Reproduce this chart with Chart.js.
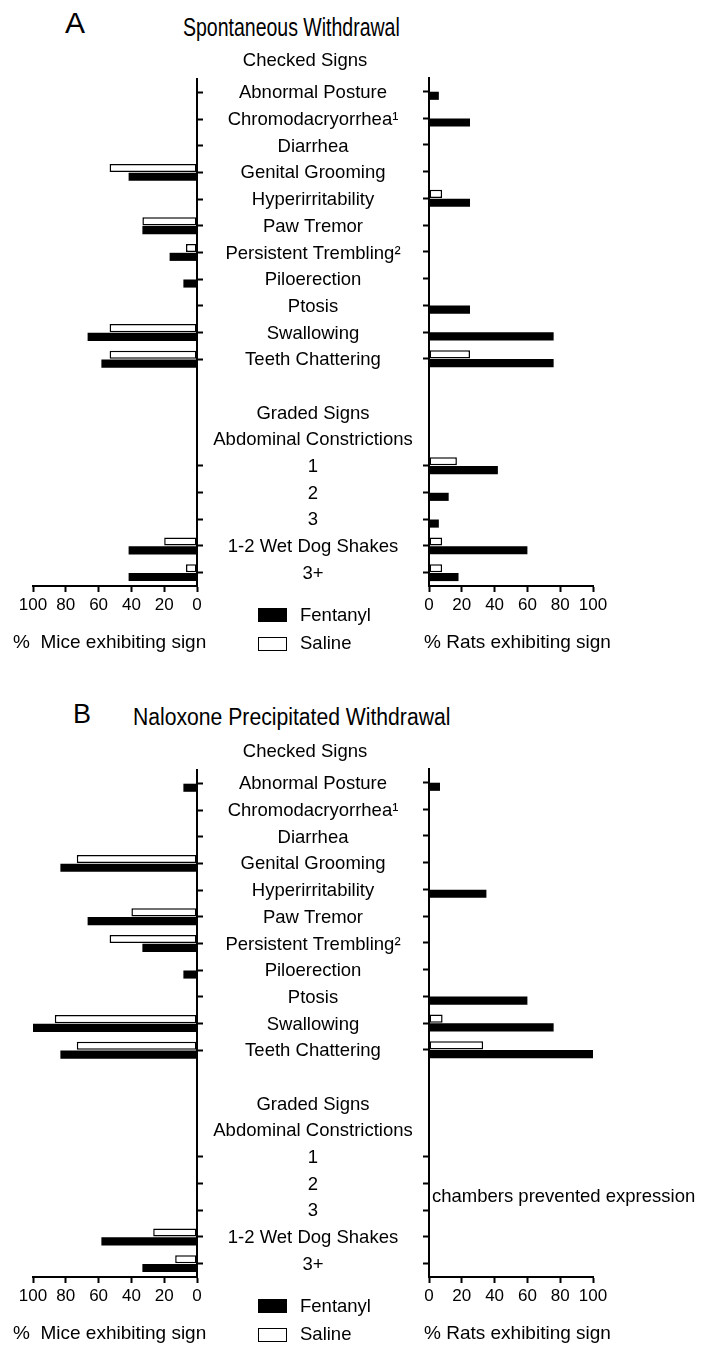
<!DOCTYPE html>
<html>
<head>
<meta charset="utf-8">
<script src="https://cdn.jsdelivr.net/npm/chart.js@4"></script>
<style>
*{margin:0;padding:0;box-sizing:border-box}
body{width:703px;height:1347px;background:#fff;position:relative;overflow:hidden;font-family:"Liberation Sans",Arial,sans-serif;color:#000}
canvas,.t,.box{position:absolute}
.t{white-space:nowrap}
.title{transform-origin:0 50%}
.box{width:29px;height:14px;border:1.5px solid #000}
</style>
</head>
<body>
<script>
(function () {
  'use strict';

  // ---- data ----
  var CATEGORIES = ['Abnormal Posture', 'Chromodacryorrhea\u00b9', 'Diarrhea', 'Genital Grooming',
    'Hyperirritability', 'Paw Tremor', 'Persistent Trembling\u00b2', 'Piloerection', 'Ptosis',
    'Swallowing', 'Teeth Chattering', '', 'Graded Signs', 'Abdominal Constrictions',
    '1', '2', '3', '1-2 Wet Dog Shakes', '3+'];
  // rows that carry a tick mark on the value axis
  var TICKED = [1, 1, 1, 1, 1, 1, 1, 1, 1, 1, 1, 0, 0, 0, 1, 1, 1, 1, 1];
  var X_TICKS = [0, 20, 40, 60, 80, 100];

  // A: spontaneous withdrawal
  var MICE_FENT_A = [0, 0, 0, 41.7, 0, 33.3, 16.7, 8.3, 0, 66.7, 58.3, null, null, null, 0, 0, 0, 41.7, 41.7];
  var MICE_SAL_A  = [0, 0, 0, 53.3, 0, 33.3, 6.7, 0, 0, 53.3, 53.3, null, null, null, 0, 0, 0, 20, 6.7];
  var RATS_FENT_A = [6, 25, 0, 0, 25, 0, 0, 0, 25, 76, 76, null, null, null, 42, 12, 6, 60, 18];
  var RATS_SAL_A  = [0, 0, 0, 0, 8, 0, 0, 0, 0, 0, 25, null, null, null, 17, 0, 0, 8, 8];

  // B: naloxone precipitated withdrawal
  var MICE_FENT_B = [8.3, 0, 0, 83.3, 0, 66.7, 33.3, 8.3, 0, 100, 83.3, null, null, null, 0, 0, 0, 58.3, 33.3];
  var MICE_SAL_B  = [0, 0, 0, 73.3, 0, 40, 53.3, 0, 0, 86.7, 73.3, null, null, null, 0, 0, 0, 26.7, 13.3];
  var RATS_FENT_B = [6.7, 0, 0, 0, 35, 0, 0, 0, 60, 76, 100, null, null, null, null, null, null, null, null];
  var RATS_SAL_B  = [0, 0, 0, 0, 0, 0, 0, 0, 0, 8.3, 33, null, null, null, null, null, null, null, null];

  var FONT = '"Liberation Sans", Arial, sans-serif';
  Chart.defaults.font.family = FONT;
  Chart.defaults.color = '#000';

  // category names between the two charts, drawn from the left chart's y scale
  var midLabels = {
    id: 'midLabels',
    afterDraw: function (chart) {
      var ctx = chart.ctx, ys = chart.scales.y, cx = chart.chartArea.right + 116;
      ctx.save();
      ctx.font = '18.5px ' + FONT;
      ctx.fillStyle = '#000';
      ctx.textAlign = 'center';
      ctx.textBaseline = 'middle';
      CATEGORIES.forEach(function (c, i) {
        if (c) ctx.fillText(c, cx, ys.getPixelForTick(i) + 1);
      });
      ctx.fillText('Checked Signs', cx - 8, ys.top - 18);
      ctx.restore();
    }
  };

  // axis title (wider than the axis itself, so not the built-in one) + optional note
  var extraText = {
    id: 'extraText',
    afterDraw: function (chart, args, opts) {
      var ctx = chart.ctx, ca = chart.chartArea, ys = chart.scales.y;
      ctx.save();
      ctx.fillStyle = '#000';
      ctx.textAlign = 'left';
      ctx.textBaseline = 'middle';
      ctx.font = '19px ' + FONT;
      ctx.fillText(opts.axisTitle, ca.left + opts.dx, ca.bottom + 57);
      if (opts.note) {
        ctx.font = '18.5px ' + FONT;
        ctx.fillText(opts.note, ca.left + 3, ys.getPixelForValue(15.5));
      }
      ctx.restore();
    }
  };

  function makeChart(canvas, left, fent, sal, note) {
    return new Chart(canvas, {
      type: 'bar',
      data: {
        labels: CATEGORIES,
        datasets: [
          { label: 'Saline', data: sal, backgroundColor: '#fff', borderColor: '#000', borderWidth: 1.5, borderSkipped: false },
          { label: 'Fentanyl', data: fent, backgroundColor: '#000', borderWidth: 0 }
        ]
      },
      options: {
        indexAxis: 'y',
        responsive: false,
        animation: false,
        categoryPercentage: 0.66,
        barPercentage: 0.92,
        layout: { padding: left ? { left: 33, top: 39, right: 0, bottom: 0 } : { left: 0, top: 38, right: 110, bottom: 0 } },
        plugins: {
          legend: { display: false },
          tooltip: { enabled: false },
          extraText: {
            axisTitle: left ? '%  Mice exhibiting sign' : '% Rats exhibiting sign',
            dx: left ? -20 : -5,
            note: note || ''
          }
        },
        scales: {
          x: {
            type: 'linear', min: 0, max: 100, reverse: left, position: 'bottom',
            afterBuildTicks: function (s) { s.ticks = X_TICKS.map(function (v) { return { value: v }; }); },
            ticks: { font: { size: 17 }, padding: 3, maxRotation: 0, autoSkip: false },
            grid: { drawOnChartArea: false, drawTicks: true, tickLength: 6, tickWidth: 2, tickColor: '#000' },
            border: { display: true, color: '#000', width: 2 },
            afterFit: function (s) { s.height = 74; }
          },
          y: {
            position: left ? 'right' : 'left',
            offset: true,
            ticks: { display: false },
            grid: {
              offset: false, drawOnChartArea: false, drawTicks: true, tickLength: 6, tickWidth: 2,
              tickColor: function (c) { return TICKED[c.index] ? '#000' : 'rgba(0,0,0,0)'; }
            },
            border: { display: true, color: '#000', width: 2 },
            afterFit: function (s) { s.width = left ? 233 : 29; }
          }
        }
      },
      plugins: left ? [midLabels, extraText] : [extraText]
    });
  }

  function addText(txt, x, cy, size, extra) {
    var d = document.createElement('div');
    d.className = 't' + (extra ? ' ' + extra : '');
    d.textContent = txt;
    d.style.left = x + 'px';
    d.style.top = (cy - size * 0.49) + 'px';
    d.style.fontSize = size + 'px';
    d.style.lineHeight = size + 'px';
    document.body.appendChild(d);
    return d;
  }

  function addBox(x, y, fill) {
    var b = document.createElement('div');
    b.className = 'box';
    b.style.left = x + 'px';
    b.style.top = y + 'px';
    b.style.background = fill;
    document.body.appendChild(b);
  }

  function addCanvas(x, y, w, h) {
    var c = document.createElement('canvas');
    c.width = w; c.height = h;
    c.style.left = x + 'px'; c.style.top = y + 'px';
    document.body.appendChild(c);
    return c;
  }

  function panel(top, letter, letterX, letterSize, title, titleX, titleSize, titleScale, mf, ms, rf, rs, note) {
    addText(letter, letterX, top + 23, letterSize);
    var t = addText(title, titleX, top + 27, titleSize, 'title');
    t.style.transform = 'scaleX(' + titleScale + ')';

    makeChart(addCanvas(0, top + 40, 430, 620), true, mf, ms);
    makeChart(addCanvas(400, top + 40, 303, 620), false, rf, rs, note);

    // legend
    addBox(258, top + 608, '#000');
    addBox(258, top + 637, '#fff');
    addText('Fentanyl', 300, top + 615, 18.5);
    addText('Saline', 300, top + 643, 18.5);
  }

  panel(0, 'A', 65, 30, 'Spontaneous Withdrawal', 183, 25, 0.78,
    MICE_FENT_A, MICE_SAL_A, RATS_FENT_A, RATS_SAL_A);
  panel(691, 'B', 73, 27, 'Naloxone Precipitated Withdrawal', 133, 23.5, 0.9,
    MICE_FENT_B, MICE_SAL_B, RATS_FENT_B, RATS_SAL_B, 'chambers prevented expression');
})();
</script>
</body>
</html>
